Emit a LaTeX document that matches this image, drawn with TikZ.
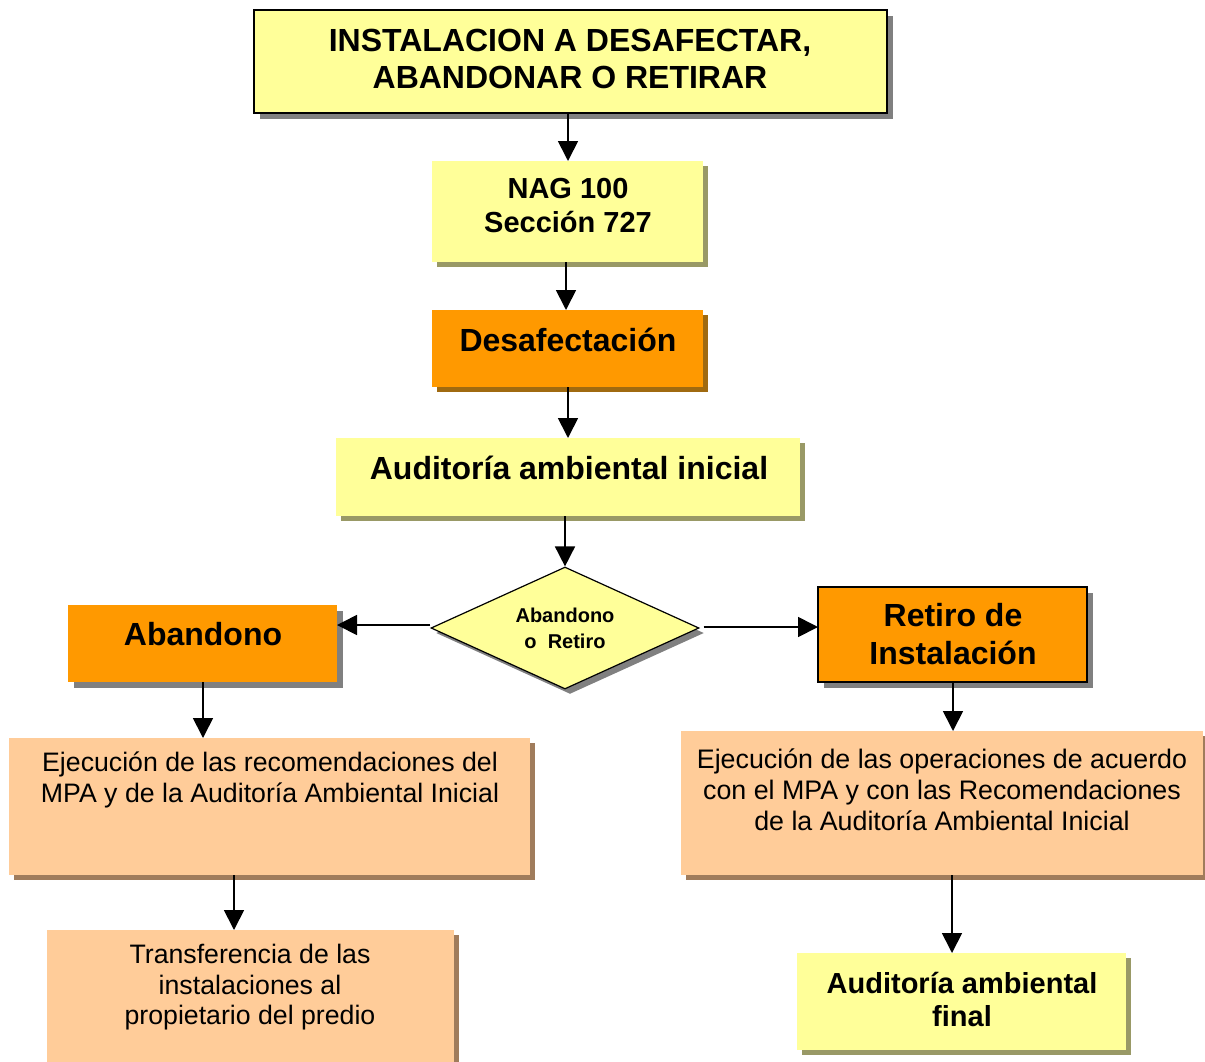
\documentclass[tikz,border=0pt]{standalone}
\usepackage{fontspec}
\setmainfont{Liberation Sans}
\usetikzlibrary{shapes.geometric,shadows,arrows.meta}
\definecolor{yel}{HTML}{FFFF99}
\definecolor{ora}{HTML}{FF9900}
\definecolor{lora}{HTML}{FFCC99}
\definecolor{shgray}{HTML}{808080}
\definecolor{shyel}{HTML}{999966}
\definecolor{shora}{HTML}{A06A10}
\definecolor{shlora}{HTML}{A07C5C}
\begin{document}
\begin{tikzpicture}[x=1pt,y=-1pt,
  box/.style={rectangle,inner sep=0pt,outer sep=0pt},
  sh/.style={drop shadow={shadow xshift=#1pt,shadow yshift=-#1pt,fill=shgray,opacity=1}},
  shY/.style={drop shadow={shadow xshift=5pt,shadow yshift=-5pt,fill=shyel,opacity=1}},
  shO/.style={drop shadow={shadow xshift=5pt,shadow yshift=-5pt,fill=shora,opacity=1}},
  shL/.style={drop shadow={shadow xshift=5pt,shadow yshift=-5pt,fill=shlora,opacity=1}},
  txtB/.style={align=center,inner sep=0pt,font=\fontsize{32}{37}\selectfont\bfseries},
  txtM/.style={align=center,inner sep=0pt,font=\fontsize{29}{34}\selectfont\bfseries},
  txtR/.style={align=center,inner sep=0pt,font=\fontsize{26.7}{30.5}\selectfont},
  arr/.style={line width=1.7pt,-{Triangle[length=20pt,width=20pt]}},
  line join=miter]
\useasboundingbox (0,0) rectangle (1205,1061);
% boxes
\node[box,sh=6,fill=yel,draw=black,line width=2pt,minimum width=633pt,minimum height=103pt] (top) at (570.5,61.5) {};
\node[box,shY,fill=yel,minimum width=271pt,minimum height=101pt] (nag) at (567.5,211.5) {};
\node[box,shO,fill=ora,minimum width=271pt,minimum height=77pt] (desaf) at (567.5,348.5) {};
\node[box,shY,fill=yel,minimum width=464pt,minimum height=78pt] (audi) at (568,477) {};
\node[diamond,aspect=2.2,sh=5,fill=yel,draw=black,line width=1.2pt,inner sep=0pt,minimum width=268pt,minimum height=122pt,align=center,font=\fontsize{20}{26}\selectfont\bfseries] (dec) at (565,628) {Abandono\\o\ \ Retiro};
\node[box,sh=6,fill=ora,minimum width=269pt,minimum height=77pt] (aband) at (202.5,643.5) {};
\node[box,sh=6,fill=ora,draw=black,line width=2pt,minimum width=269pt,minimum height=95pt] (retiro) at (952.5,634.5) {};
\node[box,shL,fill=lora,minimum width=521pt,minimum height=137pt] (ejecL) at (269.5,806.5) {};
\node[box,shL,fill=lora,minimum width=522pt,minimum height=144pt] (ejecR) at (942,803) {};
\node[box,shL,fill=lora,minimum width=407pt,minimum height=140pt] (transf) at (250.5,1000) {};
\node[box,shY,fill=yel,minimum width=329pt,minimum height=97pt] (audfin) at (961.5,1001.5) {};
% texts
\node[txtB] (ttop) at (570,58.5) {INSTALACION A DESAFECTAR,\\ABANDONAR O RETIRAR};
\node[txtM] (tnag) at (568,206) {NAG 100\\Sección 727};
\node[txtB] (tdesaf) at (568,340) {Desafectación};
\node[txtB] (taudi) at (569,468) {Auditoría ambiental inicial};
\node[txtB] (taband) at (203,634) {Abandono};
\node[txtB,font=\fontsize{32}{38}\selectfont\bfseries] (tretiro) at (953,634) {Retiro de\\Instalación};
\node[txtR] (tejecL) at (270,780) {Ejecución de las recomendaciones del\\MPA y de la Auditoría Ambiental Inicial};
\node[txtR,font=\fontsize{26.8}{31}\selectfont] (tejecR) at (942,790) {Ejecución de las operaciones de acuerdo\\con el MPA y con las Recomendaciones\\de la Auditoría Ambiental Inicial};
\node[txtR] (ttransf) at (250,987.5) {Transferencia de las\\instalaciones al\\propietario del predio};
\node[txtM,font=\fontsize{29}{33}\selectfont\bfseries] (taudfin) at (962,999) {Auditoría ambiental\\final};
% connectors
\draw[arr] (top.south -| 568,0) -- (nag.north -| 568,0);
\draw[arr] (nag.south -| 566,0) -- (desaf.north -| 566,0);
\draw[arr] (desaf.south -| 568,0) -- (audi.north -| 568,0);
\draw[arr] (audi.south -| dec.north) -- (dec.north);
\draw[arr] ([yshift=3pt]dec.west) -- ([yshift=3pt]dec.west -| aband.east);
\draw[arr] ([xshift=4pt,yshift=1pt]dec.east) -- ([yshift=1pt]dec.east -| retiro.west);
\draw[arr] (aband.south -| 203,0) -- (ejecL.north -| 203,0);
\draw[arr] (retiro.south -| 953,0) -- (ejecR.north -| 953,0);
\draw[arr] (ejecL.south -| 234,0) -- (transf.north -| 234,0);
\draw[arr] (ejecR.south -| 952,0) -- (audfin.north -| 952,0);
\end{tikzpicture}
\end{document}
